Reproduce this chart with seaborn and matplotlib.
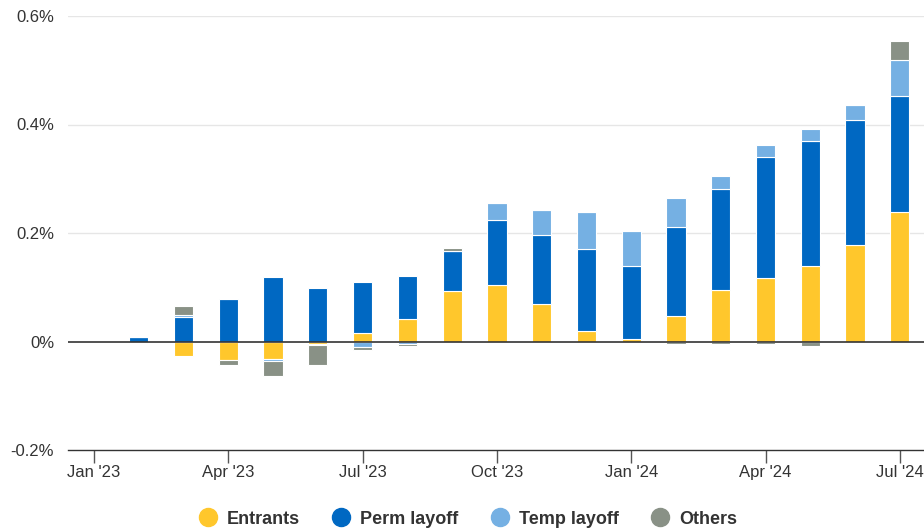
import numpy as np
import pandas as pd
import matplotlib
matplotlib.use("Agg")
import matplotlib.pyplot as plt
from matplotlib.lines import Line2D
import seaborn as sns

months = ["Jan '23", "Feb '23", "Mar '23", "Apr '23", "May '23", "Jun '23", "Jul '23",
          "Aug '23", "Sep '23", "Oct '23", "Nov '23", "Dec '23", "Jan '24", "Feb '24",
          "Mar '24", "Apr '24", "May '24", "Jun '24", "Jul '24"]
entrants = [0.0, 0.0, -0.026, -0.034, -0.033, -0.004, 0.015, 0.042, 0.094, 0.104, 0.069,
            0.020, 0.004, 0.047, 0.095, 0.117, 0.140, 0.178, 0.239]
perm_layoff = [0.0, 0.009, 0.046, 0.079, 0.119, 0.098, 0.094, 0.078, 0.073, 0.120, 0.127,
               0.151, 0.135, 0.164, 0.186, 0.223, 0.230, 0.230, 0.214]
temp_layoff = [0.0, 0.0, 0.003, 0.0, -0.003, -0.003, -0.010, -0.005, 0.0, 0.031, 0.047,
               0.067, 0.064, 0.053, 0.024, 0.023, 0.022, 0.028, 0.066]
others = [0.0, 0.0, 0.016, -0.010, -0.028, -0.037, -0.006, -0.004, 0.006, 0.0, 0.0,
          0.0, 0.0, -0.004, -0.004, -0.004, -0.008, 0.0, 0.034]
tick_labels = ["Jan '23", "Apr '23", "Jul '23", "Oct '23", "Jan '24", "Apr '24", "Jul '24"]
y_ticks = [-0.2, 0.0, 0.2, 0.4, 0.6]

series_names = ["Entrants", "Perm layoff", "Temp layoff", "Others"]
series_vals = [entrants, perm_layoff, temp_layoff, others]
colors = ["#FFC72C", "#0068C2", "#75B0E3", "#899186"]

sns.set_theme(style="white")
plt.rcParams['font.family'] = ['Liberation Sans', 'DejaVu Sans']

fig = plt.figure(figsize=(9.24, 5.31), dpi=100)
ax = fig.add_axes([68 / 924, 1 - 450 / 531, (924 - 68) / 924, (450 - 16) / 531])

pos_base = np.zeros(len(months))
neg_base = np.zeros(len(months))
for name, vals, col in zip(series_names, series_vals, colors):
    v = np.array(vals, dtype=float)
    bottoms = np.where(v >= 0, pos_base, neg_base)
    df = pd.DataFrame({"month": months, "value": v})
    sns.barplot(data=df, x="month", y="value", order=months, color=col,
                bottom=bottoms, width=0.43, edgecolor="white", linewidth=0.8,
                saturation=1, ax=ax, errorbar=None, zorder=3)
    pos_base = pos_base + np.where(v > 0, v, 0)
    neg_base = neg_base + np.where(v < 0, v, 0)

ax.set_xlim(-0.58, 18.54)
ax.set_ylim(-0.2, 0.6)
ax.set_xlabel("")
ax.set_ylabel("")

tick_pos = [months.index(t) for t in tick_labels]
ax.set_xticks(tick_pos)
ax.set_xticklabels(tick_labels, fontsize=12, color="#333333")
ax.set_yticks(y_ticks)
ax.set_yticklabels([f"{t:.1f}%" if t != 0 else "0%" for t in y_ticks], fontsize=12, color="#333333")
ax.tick_params(axis="x", which="major", length=9, width=1, color="#555555", pad=1.5, bottom=True)
ax.tick_params(axis="y", length=0, pad=10)

for t in [0.2, 0.4, 0.6]:
    ax.axhline(t, color="#e6e6e6", lw=1, zorder=1)
ax.axhline(0, color="#333333", lw=1.2, zorder=4)

for s in ["top", "right", "left"]:
    ax.spines[s].set_visible(False)
ax.spines["bottom"].set_color("#333333")
ax.spines["bottom"].set_linewidth(1)

handles = [Line2D([0], [0], marker="o", linestyle="", markersize=13,
                  markerfacecolor=c, markeredgecolor=c) for c in colors]
leg = fig.legend(handles, series_names, loc="center", bbox_to_anchor=(468 / 924, 1 - 519 / 531),
                 ncol=4, frameon=False, handlelength=1.0, handletextpad=0.55, columnspacing=1.8,
                 prop={"weight": "bold", "size": 13})
for t in leg.get_texts():
    t.set_color("#333333")

fig.savefig("out.png", dpi=100)
